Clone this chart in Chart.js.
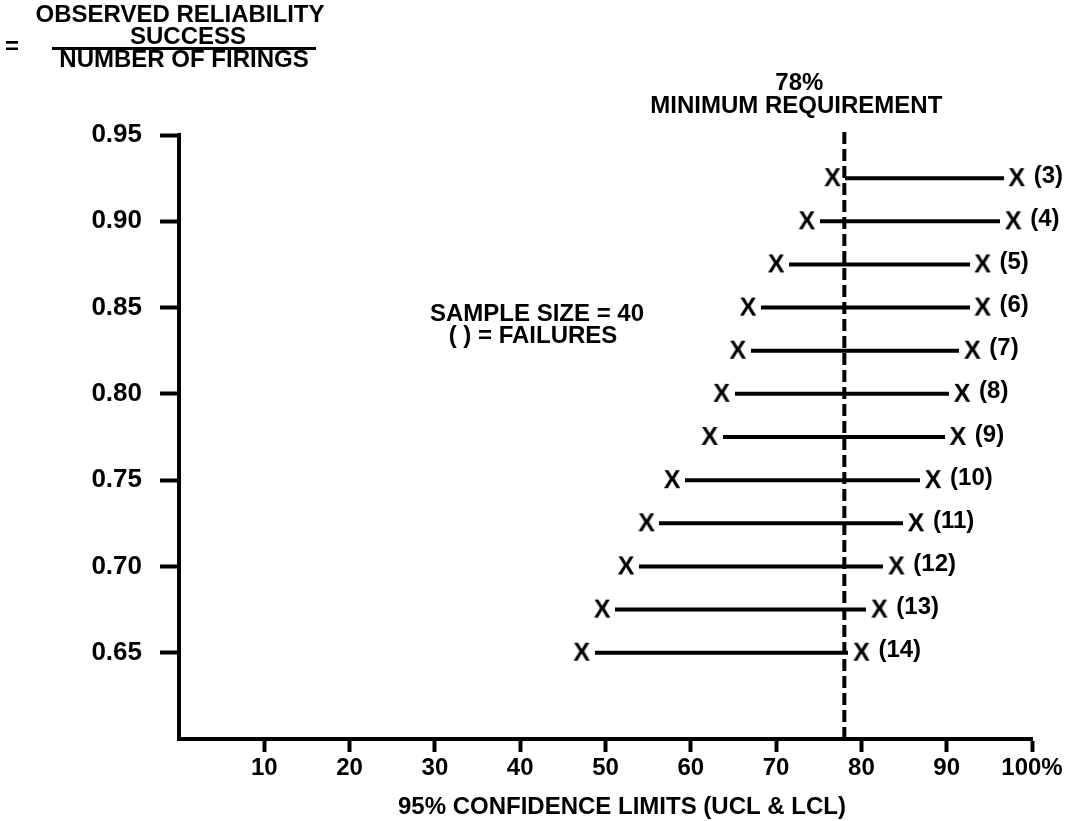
<!DOCTYPE html>
<html>
<head>
<meta charset="utf-8">
<script src="https://cdn.jsdelivr.net/npm/chart.js@4.4.1/dist/chart.umd.min.js"></script>
<style>
  body { margin: 0; background: #fff; }
  #wrap { width: 1070px; height: 821px; }
</style>
</head>
<body>
<div id="wrap"><canvas id="myChart"></canvas></div>
<script>
// rows: number of failures out of 40 firings
var failures = [3, 4, 5, 6, 7, 8, 9, 10, 11, 12, 13, 14];
var reliability = [0.925, 0.900, 0.875, 0.850, 0.825, 0.800, 0.775, 0.750, 0.725, 0.700, 0.675, 0.650];
// 95% confidence limits in percent
var lcl = [76.6, 73.6, 70.0, 66.7, 65.5, 63.6, 62.2, 57.8, 54.8, 52.4, 49.6, 47.2];
var ucl = [98.2, 97.8, 94.2, 94.2, 93.0, 91.8, 91.3, 88.4, 86.4, 84.1, 82.1, 80.0];
var xTicks = [10, 20, 30, 40, 50, 60, 70, 80, 90, 100];
var yTicks = [0.65, 0.70, 0.75, 0.80, 0.85, 0.90, 0.95];
var minRequirement = 78;
var sampleSize = 40;

var family = '"Liberation Sans", Arial, Helvetica, sans-serif';
var font = 'bold 24px ' + family;

// "X" glyph used as the point marker (white box hides the line under it)
var xMark = document.createElement('canvas');
xMark.width = 26;
xMark.height = 22;
var mctx = xMark.getContext('2d');
mctx.fillStyle = '#fff';
mctx.fillRect(0, 0, 26, 22);
mctx.fillStyle = '#000';
mctx.font = 'bold 25px ' + family;
mctx.textAlign = 'center';
mctx.textBaseline = 'middle';
mctx.fillText('X', 13, 12);

var datasets = [];

// 78% minimum requirement, dashed
datasets.push({
  data: [{x: minRequirement, y: 0.60}, {x: minRequirement, y: 0.952}],
  borderColor: '#000',
  borderWidth: 4,
  borderDash: [12, 5],
  pointRadius: 0,
  clip: false
});

for (var i = 0; i < failures.length; i++) {
  datasets.push({
    data: [{x: lcl[i], y: reliability[i]}, {x: ucl[i], y: reliability[i]}],
    borderColor: '#000',
    borderWidth: 4,
    pointStyle: xMark,
    pointRadius: 10,
    clip: false
  });
}

var notes = {
  id: 'notes',
  afterDraw: function (chart) {
    var ctx = chart.ctx;
    var xs = chart.scales.x;
    var ys = chart.scales.y;
    ctx.save();
    ctx.fillStyle = '#000';
    ctx.strokeStyle = '#000';
    ctx.font = font;
    ctx.textAlign = 'center';
    ctx.textBaseline = 'middle';

    // y axis caption as a fraction
    ctx.fillText('OBSERVED RELIABILITY', 180, 15);
    ctx.fillText('SUCCESS', 188, 37);
    ctx.lineWidth = 3;
    ctx.beginPath();
    ctx.moveTo(52, 48.5);
    ctx.lineTo(316, 48.5);
    ctx.stroke();
    ctx.fillText('=', 12, 47);
    ctx.fillText('NUMBER OF FIRINGS', 184, 60);

    // requirement label
    var rx = xs.getPixelForValue(minRequirement);
    ctx.fillText(minRequirement + '%', rx - 45, 83);
    ctx.fillText('MINIMUM REQUIREMENT', rx - 48, 106);

    ctx.fillText('SAMPLE SIZE = ' + sampleSize, 537, 314);
    ctx.fillText('( ) = FAILURES', 533, 336);

    ctx.fillText('95% CONFIDENCE LIMITS (UCL & LCL)', 622, 807);

    // failure counts beside each UCL
    ctx.textAlign = 'left';
    for (var i = 0; i < failures.length; i++) {
      ctx.fillText('(' + failures[i] + ')',
        xs.getPixelForValue(ucl[i]) + 17,
        ys.getPixelForValue(reliability[i]) - 2);
    }
    ctx.restore();
  }
};

new Chart('myChart', {
  type: 'line',
  data: { datasets: datasets },
  plugins: [notes],
  options: {
    responsive: true,
    maintainAspectRatio: false,
    animation: false,
    layout: { padding: { left: 0, right: 38, top: 135, bottom: 0 } },
    plugins: {
      legend: { display: false },
      tooltip: { enabled: false }
    },
    scales: {
      x: {
        type: 'linear',
        min: 0,
        max: 100,
        afterBuildTicks: function (axis) {
          axis.ticks = xTicks.map(function (v) { return {value: v}; });
        },
        afterFit: function (axis) { axis.height = 82; },
        ticks: {
          color: '#000',
          font: { family: family, size: 24, weight: 'bold' },
          padding: 2,
          maxRotation: 0,
          autoSkip: false,
          callback: function (v) { return v === 100 ? '100%' : v; }
        },
        grid: {
          drawOnChartArea: false,
          tickLength: 13,
          tickWidth: 4,
          tickColor: '#000'
        },
        border: { color: '#000', width: 4 }
      },
      y: {
        type: 'linear',
        min: 0.60,
        max: 0.95,
        afterBuildTicks: function (axis) {
          axis.ticks = yTicks.map(function (v) { return {value: v}; });
        },
        afterFit: function (axis) { axis.width = 179; },
        ticks: {
          color: '#000',
          font: { family: family, size: 26, weight: 'bold' },
          padding: 18,
          callback: function (v) { return v.toFixed(2); }
        },
        grid: {
          drawOnChartArea: false,
          tickLength: 19,
          tickWidth: 4,
          tickColor: '#000'
        },
        border: { color: '#000', width: 4 }
      }
    }
  }
});
</script>
</body>
</html>
